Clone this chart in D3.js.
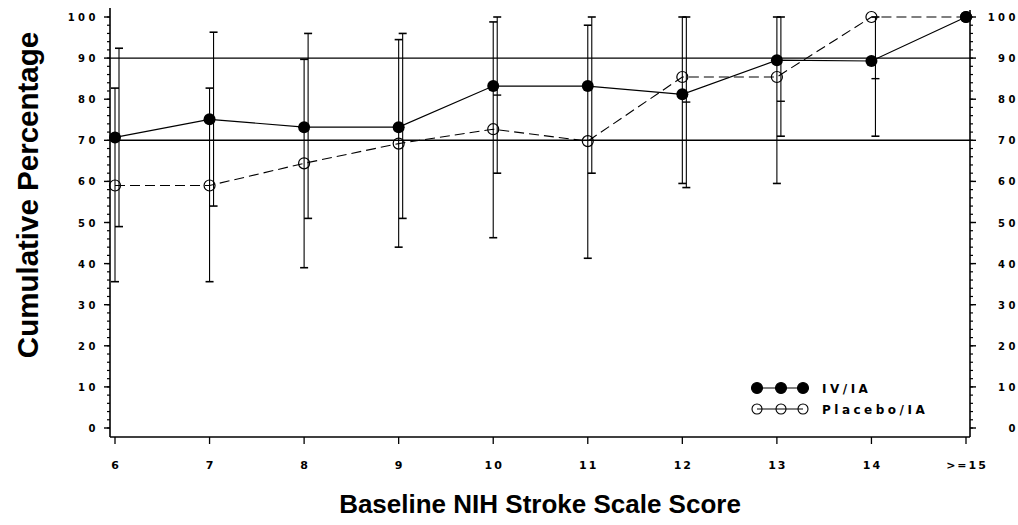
<!DOCTYPE html>
<html>
<head>
<meta charset="utf-8">
<script src="https://cdn.jsdelivr.net/npm/d3@7"></script>
<style>
  body { margin: 0; background: #fff; }
  svg { display: block; }
  .tick-lbl { font-family: "DejaVu Sans", sans-serif; font-weight: bold; font-size: 10px; letter-spacing: 3.5px; }
  .xtick-lbl { font-family: "DejaVu Sans", sans-serif; font-weight: bold; font-size: 11px; letter-spacing: 2px; }
  .title { font-family: "Liberation Sans", Arial, sans-serif; font-weight: bold; }
  .legend-lbl { font-family: "DejaVu Sans", sans-serif; font-weight: bold; font-size: 12px; letter-spacing: 3.5px; }
</style>
</head>
<body>
<div class="container__chart"></div>
<script>
//data
const categories = ["6", "7", "8", "9", "10", "11", "12", "13", "14", ">=15"];
const iviaValues = [70.7, 75.1, 73.2, 73.2, 83.2, 83.2, 81.2, 89.5, 89.3, 100];
const iviaLow = [49, 54, 51, 51, 62, 62, 58.5, 71, 71, null];
const iviaHigh = [92.4, 96.3, 96, 96, 100, 100, 100, 100, 100, null];
const placeboValues = [59, 59, 64.4, 69.2, 72.7, 69.8, 85.4, 85.4, 100, 100];
const placeboLow = [35.6, 35.6, 39, 44, 46.3, 41.3, 59.5, 59.5, null, null];
const placeboHigh = [82.7, 82.7, 89.7, 94.5, 98.8, 98, 100, 100, null, null];
const extraCaps = [null, null, null, null, 81, null, 79.3, 79.5, 85, null];
const refLines = [70, 90];
const yTicks = [0, 10, 20, 30, 40, 50, 60, 70, 80, 90, 100];
const legendNames = ["IV/IA", "Placebo/IA"];

const WIDTH = 1018;
const HEIGHT = 525;
const LEFT = 110, RIGHT = 970, AXIS_Y = 437;

const xScale = d3.scalePoint().domain(categories).range([115, 966]);
const yScale = d3.scaleLinear().domain([0, 100]).range([428, 17]);

const svg = d3.select(".container__chart")
    .append("svg")
    .attr("width", WIDTH)
    .attr("height", HEIGHT);

//axes lines
svg.append("line").attr("x1", LEFT).attr("x2", LEFT).attr("y1", 8).attr("y2", AXIS_Y)
    .attr("stroke", "#000").attr("stroke-width", 1.6);
svg.append("line").attr("x1", RIGHT).attr("x2", RIGHT).attr("y1", 10).attr("y2", AXIS_Y)
    .attr("stroke", "#000").attr("stroke-width", 1.6);
svg.append("line").attr("x1", LEFT).attr("x2", RIGHT).attr("y1", AXIS_Y).attr("y2", AXIS_Y)
    .attr("stroke", "#000").attr("stroke-width", 1.6);

//y ticks (major + minor every 2)
const minor = d3.range(0, 101, 2);
svg.selectAll(".minorL").data(minor).enter().append("line")
    .attr("x1", LEFT - 3).attr("x2", LEFT)
    .attr("y1", d => yScale(d)).attr("y2", d => yScale(d))
    .attr("stroke", "#000").attr("stroke-width", 1.2);
svg.selectAll(".minorR").data(minor).enter().append("line")
    .attr("x1", RIGHT).attr("x2", RIGHT + 3)
    .attr("y1", d => yScale(d)).attr("y2", d => yScale(d))
    .attr("stroke", "#000").attr("stroke-width", 1.2);
svg.selectAll(".majorL").data(yTicks).enter().append("line")
    .attr("x1", LEFT - 6).attr("x2", LEFT)
    .attr("y1", d => yScale(d)).attr("y2", d => yScale(d))
    .attr("stroke", "#000").attr("stroke-width", 1.4);
svg.selectAll(".majorR").data(yTicks).enter().append("line")
    .attr("x1", RIGHT).attr("x2", RIGHT + 6)
    .attr("y1", d => yScale(d)).attr("y2", d => yScale(d))
    .attr("stroke", "#000").attr("stroke-width", 1.4);

svg.selectAll(".ylblL").data(yTicks).enter().append("text")
    .attr("class", "tick-lbl")
    .attr("x", 99).attr("y", d => yScale(d) + 4)
    .attr("text-anchor", "end")
    .text(d => d);
svg.selectAll(".ylblR").data(yTicks).enter().append("text")
    .attr("class", "tick-lbl")
    .attr("x", 1019).attr("y", d => yScale(d) + 4)
    .attr("text-anchor", "end")
    .text(d => d);

//x ticks
svg.selectAll(".xtick").data(categories).enter().append("line")
    .attr("x1", d => xScale(d)).attr("x2", d => xScale(d))
    .attr("y1", AXIS_Y).attr("y2", AXIS_Y + 7)
    .attr("stroke", "#000").attr("stroke-width", 1.3);
svg.selectAll(".xlbl").data(categories).enter().append("text")
    .attr("class", "xtick-lbl")
    .attr("x", d => xScale(d) + 1).attr("y", AXIS_Y + 32)
    .attr("text-anchor", "middle")
    .text(d => d);

//reference lines
svg.selectAll(".ref").data(refLines).enter().append("line")
    .attr("x1", LEFT).attr("x2", RIGHT)
    .attr("y1", d => yScale(d)).attr("y2", d => yScale(d))
    .attr("stroke", "#000").attr("stroke-width", 1.4);

//error bars
function errorBars(low, high, dx) {
    const rows = categories.map((c, i) => ({c, lo: low[i], hi: high[i]})).filter(d => d.lo != null);
    const g = svg.append("g").attr("stroke", "#000").attr("stroke-width", 1.1);
    g.selectAll(".bar").data(rows).enter().append("line")
        .attr("x1", d => xScale(d.c) + dx).attr("x2", d => xScale(d.c) + dx)
        .attr("y1", d => yScale(d.lo)).attr("y2", d => yScale(d.hi));
    g.selectAll(".capLo").data(rows).enter().append("line")
        .attr("x1", d => xScale(d.c) + dx - 4).attr("x2", d => xScale(d.c) + dx + 4)
        .attr("y1", d => yScale(d.lo)).attr("y2", d => yScale(d.lo))
        .attr("stroke-width", 1.6);
    g.selectAll(".capHi").data(rows).enter().append("line")
        .attr("x1", d => xScale(d.c) + dx - 4).attr("x2", d => xScale(d.c) + dx + 4)
        .attr("y1", d => yScale(d.hi)).attr("y2", d => yScale(d.hi))
        .attr("stroke-width", 1.6);
}
errorBars(placeboLow, placeboHigh, 0);
errorBars(iviaLow, iviaHigh, 4);

svg.selectAll(".extra").data(categories.map((c, i) => ({c, v: extraCaps[i]})).filter(d => d.v != null))
    .enter().append("line")
    .attr("x1", d => xScale(d.c)).attr("x2", d => xScale(d.c) + 8)
    .attr("y1", d => yScale(d.v)).attr("y2", d => yScale(d.v))
    .attr("stroke", "#000").attr("stroke-width", 1.4);

//series lines
const line = d3.line().x((d, i) => xScale(categories[i])).y(d => yScale(d));
svg.append("path").datum(placeboValues).attr("d", line)
    .attr("fill", "none").attr("stroke", "#000").attr("stroke-width", 1.1)
    .attr("stroke-dasharray", "10,5");
svg.append("path").datum(iviaValues).attr("d", line)
    .attr("fill", "none").attr("stroke", "#000").attr("stroke-width", 1.2);

//markers
svg.selectAll(".open").data(placeboValues).enter().append("circle")
    .attr("cx", (d, i) => xScale(categories[i])).attr("cy", d => yScale(d))
    .attr("r", 5.5).attr("fill", "none").attr("stroke", "#000").attr("stroke-width", 1.2);
svg.selectAll(".filled").data(iviaValues).enter().append("circle")
    .attr("cx", (d, i) => xScale(categories[i])).attr("cy", d => yScale(d))
    .attr("r", 6).attr("fill", "#000");

//legend
const legendX = [757, 781, 803];
const legend = svg.append("g");
legendNames.forEach((name, k) => {
    const ly = 388 + k * 21;
    legend.append("line").attr("x1", legendX[0]).attr("x2", legendX[2])
        .attr("y1", ly).attr("y2", ly).attr("stroke", "#000").attr("stroke-width", 1.2);
    legendX.forEach(lx => {
        legend.append("circle").attr("cx", lx).attr("cy", ly)
            .attr("r", k === 0 ? 5.5 : 5)
            .attr("fill", k === 0 ? "#000" : "none")
            .attr("stroke", "#000").attr("stroke-width", 1.1);
    });
    legend.append("text").attr("class", "legend-lbl")
        .attr("x", 822).attr("y", ly + 5).text(name);
});

//titles
svg.append("text").attr("class", "title")
    .attr("x", 540).attr("y", 513).attr("text-anchor", "middle")
    .style("font-size", "26px")
    .text("Baseline NIH Stroke Scale Score");
svg.append("text").attr("class", "title")
    .attr("transform", "translate(38,195) rotate(-90)")
    .attr("text-anchor", "middle")
    .style("font-size", "29.5px")
    .text("Cumulative Percentage");
</script>
</body>
</html>
